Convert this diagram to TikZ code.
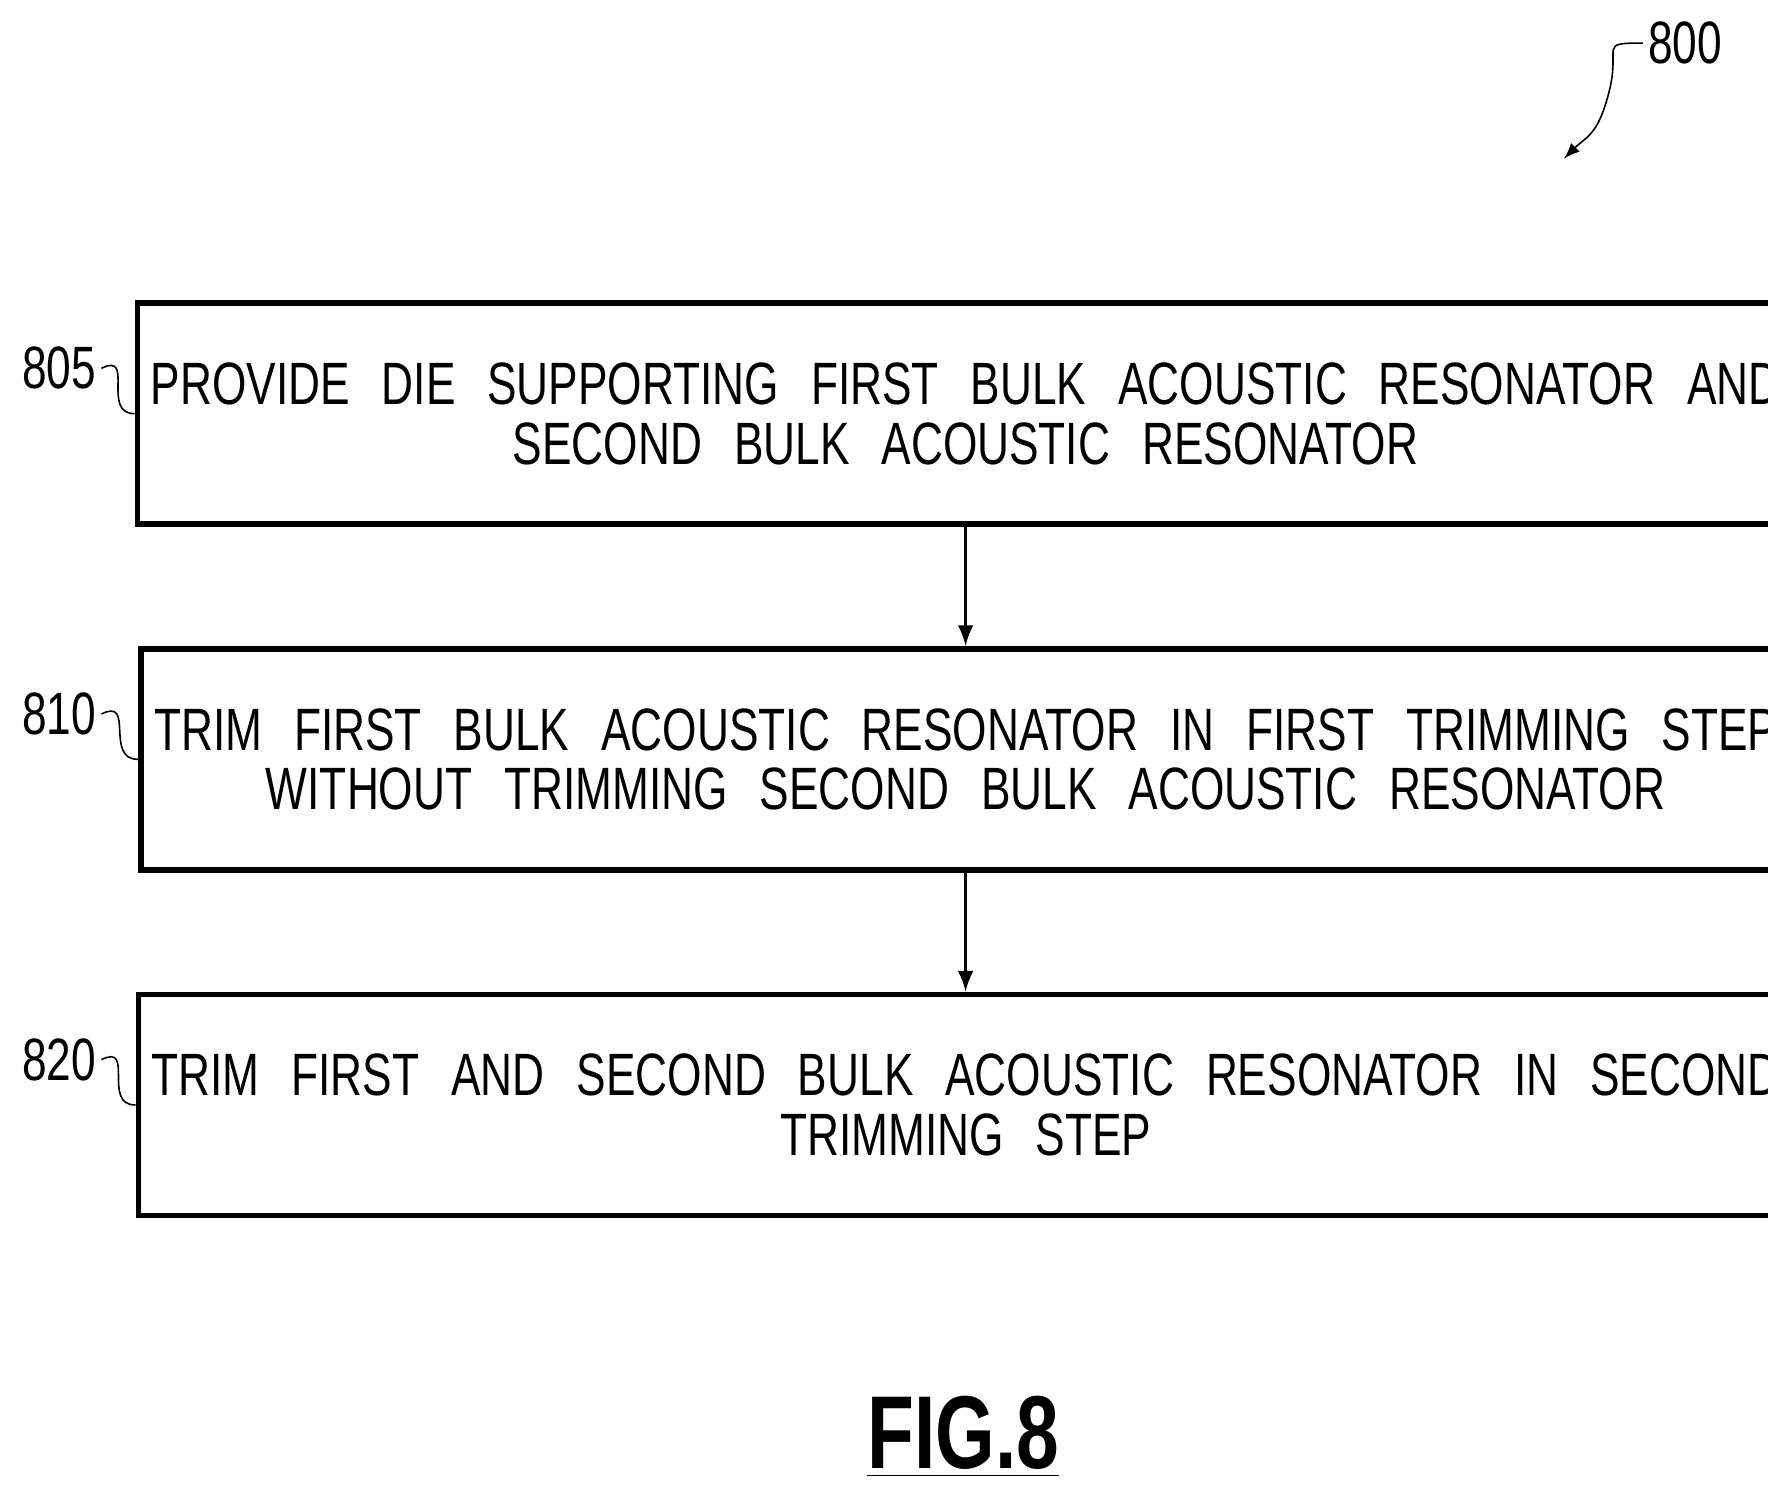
\documentclass[tikz,border=0pt]{standalone}
\usepackage{fontspec}
\setmainfont[FakeStretch=0.74, WordSpace=2.6]{Liberation Sans}
\usetikzlibrary{positioning}
\begin{document}
\begin{tikzpicture}[thick, x=0.01cm, y=-0.01cm]
\tikzstyle{stepbox}=[draw, line width=1.4pt, minimum width=13.91cm, minimum height=1.95cm, align=center, font=\fontsize{15}{15}\selectfont]
\tikzstyle{ref}=[font=\fontsize{15}{18}\selectfont, inner sep=1pt]
\useasboundingbox (0,0) rectangle (1560,1315);

	%boxes
	\node[stepbox] (provide) at (852,365) {PROVIDE DIE SUPPORTING FIRST BULK ACOUSTIC RESONATOR AND\\SECOND BULK ACOUSTIC RESONATOR};
	\node[stepbox] (trimone) at (852,670) {TRIM FIRST BULK ACOUSTIC RESONATOR IN FIRST TRIMMING STEP\\WITHOUT TRIMMING SECOND BULK ACOUSTIC RESONATOR};
	\node[stepbox] (trimtwo) at (852,975) {TRIM FIRST AND SECOND BULK ACOUSTIC RESONATOR IN SECOND\\TRIMMING STEP};
	%paths
	\draw[->, >=latex] (provide) -- (trimone);
	\draw[->, >=latex] (trimone) -- (trimtwo);

	%reference numerals
	\node[ref] (n805) at (52,325) {805};
	\node[ref] (n810) at (52,630) {810};
	\node[ref] (n820) at (52,935) {820};
	\foreach \n/\b in {n805/provide, n810/trimone, n820/trimtwo}
		\draw[thin] (\n.east) .. controls +(30,-15) and +(-30,0) .. (\b.west);
	\node[ref] (n800) at (1487,38) {800};
	\coordinate (tip) at (1380,140);
	\draw[thin, ->, >=latex] (n800.west) .. controls +(-40,0) and +(10,-40) .. (1420,80) .. controls +(-10,40) and +(20,-20) .. (tip);

	%figure label
	\node[font=\fontsize{26}{30}\selectfont\bfseries] (fig) at (850,1268) {\underline{FIG.8}};
\end{tikzpicture}
\end{document}
